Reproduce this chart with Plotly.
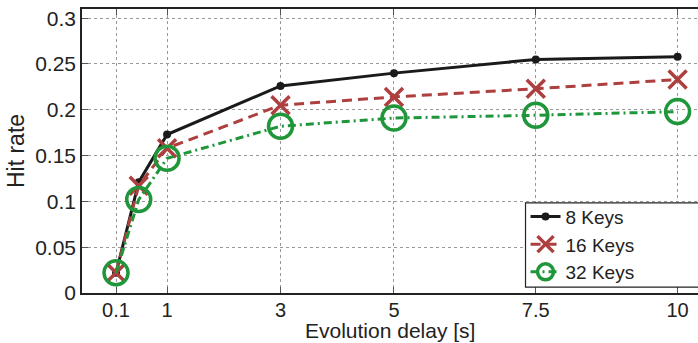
import plotly.graph_objects as go

delays = [0.1, 0.5, 1, 3, 5, 7.5, 10]
keys8 = [0.022, 0.121, 0.173, 0.226, 0.240, 0.255, 0.258]
keys16 = [0.022, 0.117, 0.158, 0.205, 0.214, 0.223, 0.233]
keys32 = [0.022, 0.102, 0.147, 0.182, 0.191, 0.194, 0.198]
xticks = [0.1, 1, 3, 5, 7.5, 10]
xticklabels = ["0.1", "1", "3", "5", "7.5", "10"]
yticks = [0, 0.05, 0.1, 0.15, 0.2, 0.25, 0.3]
yticklabels = ["0", "0.05", "0.1", "0.15", "0.2", "0.25", "0.3"]

FONT = "Liberation Sans, Arial, Helvetica, sans-serif"
BLACK = "#1a1a1a"
RED = "#ad3f3f"
GREEN = "#1f9639"

fig = go.Figure()
fig.add_trace(go.Scatter(x=delays, y=keys8, name="8 Keys", mode="lines+markers",
                         line=dict(color=BLACK, width=3, dash="solid"),
                         marker=dict(symbol="circle", size=8, color=BLACK)))
fig.add_trace(go.Scatter(x=delays, y=keys16, name="16 Keys", mode="lines+markers",
                         line=dict(color=RED, width=3, dash="10px,6px"),
                         marker=dict(symbol="x-thin", size=18, color=RED,
                                     line=dict(color=RED, width=3.5))))
fig.add_trace(go.Scatter(x=delays, y=keys32, name="32 Keys", mode="lines+markers",
                         line=dict(color=GREEN, width=3, dash="8px,4px,2px,4px"),
                         marker=dict(symbol="circle-open", size=24, color=GREEN,
                                     line=dict(color=GREEN, width=3.5))))

axis_common = dict(
    showgrid=True, gridcolor="#999999", griddash="dot", gridwidth=1,
    zeroline=False, showline=True, linecolor="#222222", linewidth=1.5,
    ticks="inside", ticklen=6, tickcolor="#555555", tickwidth=1,
    tickfont=dict(family=FONT, size=21, color="#222222"),
)

# legend frame drawn as a box that runs off the right edge, like the reference
fig.add_shape(type="rect", xref="paper", yref="paper",
              x0=0.72, x1=1.02, y0=0.021, y1=0.317,
              line=dict(color="#222222", width=1.2), fillcolor="white",
              layer="above")

# x-axis title as an annotation for exact placement
fig.add_annotation(text="Evolution delay [s]", xref="paper", yref="paper",
                   x=0.5, y=-0.133, xanchor="center", yanchor="middle",
                   showarrow=False, font=dict(family=FONT, size=21, color="#222222"))

fig.update_layout(
    width=698, height=343,
    margin=dict(l=82, r=0, t=9, b=50),
    paper_bgcolor="white", plot_bgcolor="white",
    font=dict(family=FONT, color="#222222"),
    xaxis=dict(range=[-0.5, 10.36], tickvals=xticks, ticktext=xticklabels,
               mirror="ticks", ticklabelstandoff=-2,
               **{**axis_common, "tickfont": dict(family=FONT, size=20, color="#222222")}),
    yaxis=dict(range=[0, 0.31], tickvals=yticks, ticktext=yticklabels,
               mirror=False,
               title=dict(text="Hit rate", font=dict(family=FONT, size=23), standoff=4),
               **axis_common),
    legend=dict(x=0.72, xanchor="left", y=0.005, yanchor="bottom",
                bgcolor="rgba(0,0,0,0)", borderwidth=0,
                font=dict(family=FONT, size=19, color="#222222"),
                tracegroupgap=0),
    showlegend=True,
)

fig.write_html("out.html")
